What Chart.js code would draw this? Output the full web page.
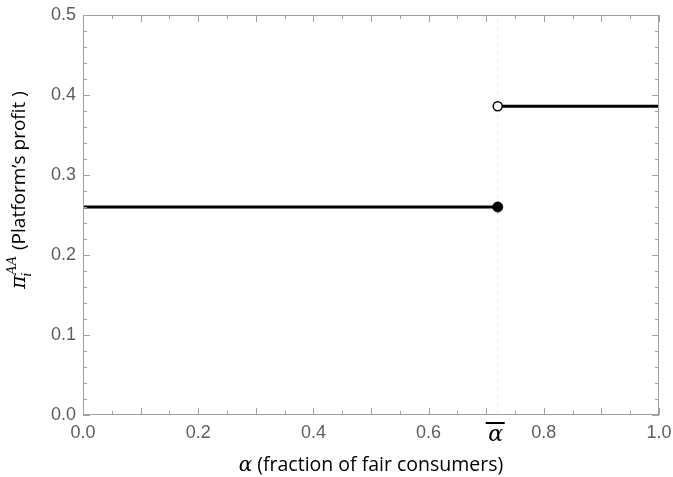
<!DOCTYPE html>
<html>
<head>
<meta charset="utf-8">
<script src="https://cdn.jsdelivr.net/npm/chart.js@4.4.1/dist/chart.umd.min.js"></script>
<style>
  html, body { margin: 0; padding: 0; background: #fff; }
  #wrap { width: 673px; height: 477px; }
</style>
</head>
<body>
<div id="wrap"><canvas id="profitChart" width="673" height="477"></canvas></div>
<script>
// threshold alpha-bar and the two profit levels
var alphaBar = 0.72;
var lowSegmentX = [0, 0.72];
var lowSegmentY = [0.26, 0.26];
var highSegmentX = [0.72, 1.0];
var highSegmentY = [0.386, 0.386];
var xTickValues = [0, 0.2, 0.4, 0.6, 0.72, 0.8, 1.0];
var yTickValues = [0, 0.1, 0.2, 0.3, 0.4, 0.5];

function pts(xs, ys) {
    return xs.map(function(x, i) { return { x: x, y: ys[i] }; });
}

var tickFont = { family: '"Liberation Sans", Arial, sans-serif', size: 18 };
var tickColor = '#5e5e5e';
var frameColor = '#a0a0a0';
var titleFont = '19.5px "Open Sans", sans-serif';

// frame with inward ticks, Mathematica style, plus axis titles and the alpha-bar label
var framePlugin = {
    id: 'frameTicks',
    afterDraw: function(chart) {
        var c = chart.ctx, a = chart.chartArea;
        var xs = chart.scales.x, ys = chart.scales.y;
        c.save();
        c.strokeStyle = frameColor;
        c.lineWidth = 1;
        c.strokeRect(a.left + 0.5, a.top + 0.5, a.right - a.left - 1, a.bottom - a.top - 1);

        c.beginPath();
        var v, p, len;
        for (var i = 0; i <= 20; i++) {
            v = i * 0.05;
            p = Math.round(xs.getPixelForValue(v)) + 0.5;
            len = (i % 2 === 0) ? 7 : 4;
            c.moveTo(p, a.bottom); c.lineTo(p, a.bottom - len);
            c.moveTo(p, a.top); c.lineTo(p, a.top + len);
        }
        for (var j = 0; j <= 25; j++) {
            v = j * 0.02;
            p = Math.round(ys.getPixelForValue(v)) + 0.5;
            len = (j % 5 === 0) ? 7 : 4;
            c.moveTo(a.left, p); c.lineTo(a.left + len, p);
            c.moveTo(a.right, p); c.lineTo(a.right - len, p);
        }
        c.stroke();

        // alpha-bar tick label
        var ax = xs.getPixelForValue(alphaBar);
        c.fillStyle = '#000';
        c.font = 'italic 22px "DejaVu Serif", serif';
        c.textAlign = 'center';
        c.textBaseline = 'alphabetic';
        c.fillText('\u03b1', ax - 2, a.bottom + 26);
        c.fillRect(ax - 12, a.bottom + 7, 19, 2);

        // x title
        var xt1 = '\u03b1';
        var xt2 = ' (fraction of fair consumers)';
        c.font = 'italic 20px "DejaVu Serif", serif';
        var w1 = c.measureText(xt1).width;
        c.font = titleFont;
        var w2 = c.measureText(xt2).width;
        var cx = (a.left + a.right) / 2;
        var sx = cx - (w1 + w2) / 2;
        c.textAlign = 'left';
        c.font = 'italic 20px "DejaVu Serif", serif';
        c.fillText(xt1, sx, 471);
        c.font = titleFont;
        c.fillText(xt2, sx + w1, 471);

        // y title, rotated
        c.translate(25, 190);
        c.rotate(-Math.PI / 2);
        var parts = [
            { t: '\u03c0', f: 'italic 20px "DejaVu Serif", serif' },
            { t: 'i', f: 'italic 13px "DejaVu Serif", serif', dy: 6 },
            { t: 'AA', f: 'italic 13px "DejaVu Serif", serif', dy: -9 },
            { t: ' (Platform\u2019s profit )', f: '19px "Open Sans", sans-serif' }
        ];
        var widths = [];
        parts.forEach(function(q) {
            c.font = q.f;
            widths.push(c.measureText(q.t).width);
        });
        // subscript and superscript stack over the same x
        var total = widths[0] + Math.max(widths[1], widths[2]) + 2 + widths[3];
        var px = -total / 2;
        c.font = parts[0].f; c.fillText(parts[0].t, px, 0);
        px += widths[0];
        c.font = parts[1].f; c.fillText(parts[1].t, px - 1, parts[1].dy);
        c.font = parts[2].f; c.fillText(parts[2].t, px + 1, parts[2].dy);
        px += Math.max(widths[1], widths[2]) + 2;
        c.font = parts[3].f; c.fillText(parts[3].t, px, 0);
        c.restore();
    }
};

document.addEventListener('DOMContentLoaded', function() {
    var ctx = document.getElementById('profitChart').getContext('2d');

    var data = {
        datasets: [
            {
                label: 'threshold',
                data: pts([alphaBar, alphaBar], [0, 0.5]),
                borderColor: '#e4e4e4',
                borderWidth: 1,
                borderDash: [4, 4],
                pointRadius: 0,
                order: 5
            },
            {
                label: 'low',
                data: pts(lowSegmentX, lowSegmentY),
                borderColor: '#000',
                borderWidth: 3,
                pointRadius: [0, 5],
                pointBackgroundColor: '#000',
                pointBorderColor: '#000',
                pointBorderWidth: 1,
                order: 1
            },
            {
                label: 'high',
                data: pts(highSegmentX, highSegmentY),
                borderColor: '#000',
                borderWidth: 3,
                pointRadius: [4.5, 0],
                pointBackgroundColor: '#fff',
                pointBorderColor: '#000',
                pointBorderWidth: 1.5,
                order: 1
            }
        ]
    };

    var config = {
        type: 'line',
        data: data,
        options: {
            responsive: false,
            animation: false,
            layout: { padding: { top: 15, right: 0, left: 0, bottom: 0 } },
            plugins: { legend: { display: false }, tooltip: { enabled: false } },
            scales: {
                x: {
                    type: 'linear',
                    min: 0, max: 1,
                    afterBuildTicks: function(scale) {
                        scale.ticks = xTickValues.map(function(v) { return { value: v }; });
                    },
                    afterFit: function(scale) {
                        scale.height = 62;
                        scale.paddingRight = 14;
                        scale.paddingLeft = 0;
                    },
                    grid: { display: false, drawTicks: false },
                    border: { display: false },
                    ticks: {
                        autoSkip: false,
                        maxRotation: 0,
                        padding: 7,
                        color: tickColor,
                        font: tickFont,
                        callback: function(v) { return v === alphaBar ? '' : v.toFixed(1); }
                    }
                },
                y: {
                    type: 'linear',
                    min: 0, max: 0.5,
                    afterBuildTicks: function(scale) {
                        scale.ticks = yTickValues.map(function(v) { return { value: v }; });
                    },
                    afterFit: function(scale) {
                        scale.width = 83;
                        scale.paddingTop = 0;
                        scale.paddingBottom = 0;
                    },
                    grid: { display: false, drawTicks: false },
                    border: { display: false },
                    ticks: {
                        padding: 7,
                        color: tickColor,
                        font: tickFont,
                        callback: function(v) { return v.toFixed(1); }
                    }
                }
            }
        },
        plugins: [framePlugin]
    };

    new Chart(ctx, config);
});
</script>
</body>
</html>
